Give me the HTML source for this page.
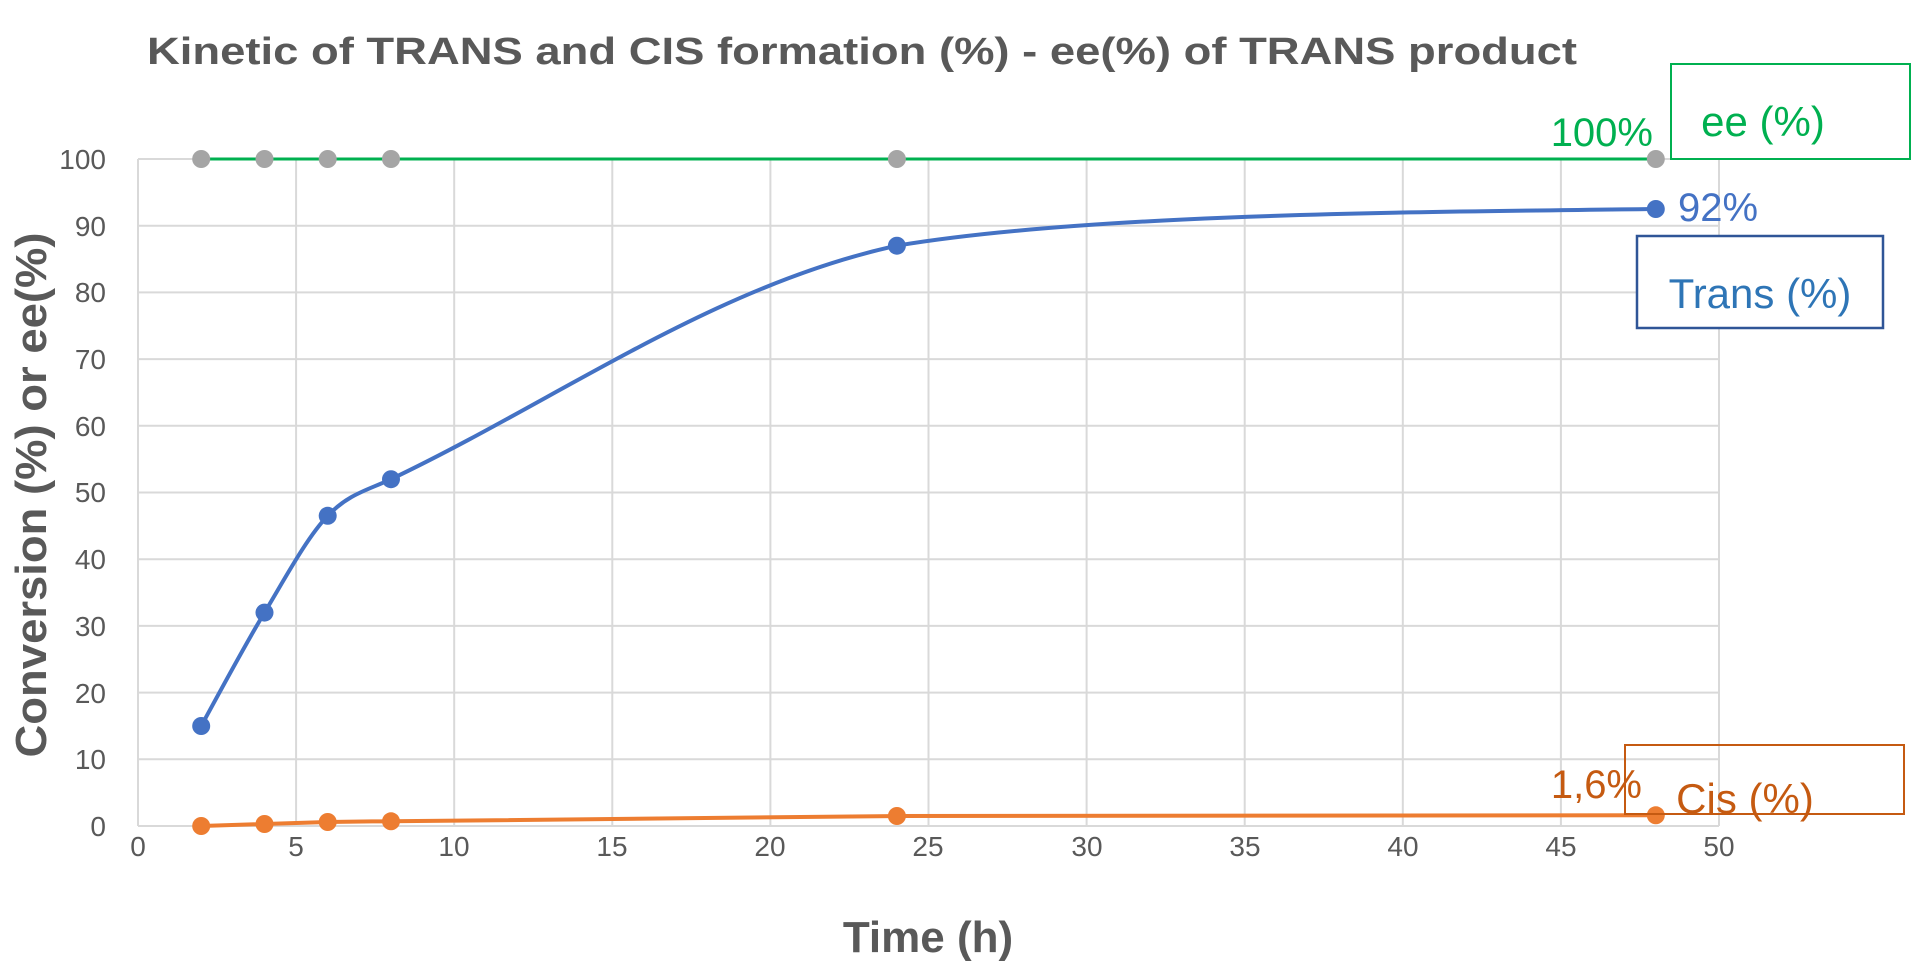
<!DOCTYPE html>
<html><head><meta charset="utf-8"><style>
html,body{margin:0;padding:0;background:#fff;}
svg{display:block;}
text{font-family:"Liberation Sans",sans-serif;}
</style></head><body>
<svg width="1920" height="965" viewBox="0 0 1920 965" xmlns="http://www.w3.org/2000/svg">
<rect width="1920" height="965" fill="#fff"/>
<text x="147" y="64" font-size="38" font-weight="bold" fill="#595959" textLength="1430" lengthAdjust="spacingAndGlyphs">Kinetic of TRANS and CIS formation (%)  -  ee(%) of TRANS product</text>
<g stroke="#d9d9d9" stroke-width="2">
<line x1="138" y1="826" x2="1719" y2="826"/><line x1="138" y1="759.3" x2="1719" y2="759.3"/><line x1="138" y1="692.6" x2="1719" y2="692.6"/><line x1="138" y1="625.9" x2="1719" y2="625.9"/><line x1="138" y1="559.2" x2="1719" y2="559.2"/><line x1="138" y1="492.5" x2="1719" y2="492.5"/><line x1="138" y1="425.8" x2="1719" y2="425.8"/><line x1="138" y1="359.1" x2="1719" y2="359.1"/><line x1="138" y1="292.4" x2="1719" y2="292.4"/><line x1="138" y1="225.7" x2="1719" y2="225.7"/><line x1="138" y1="159" x2="1719" y2="159"/>
<line x1="138" y1="159" x2="138" y2="826"/><line x1="296.1" y1="159" x2="296.1" y2="826"/><line x1="454.2" y1="159" x2="454.2" y2="826"/><line x1="612.3" y1="159" x2="612.3" y2="826"/><line x1="770.4" y1="159" x2="770.4" y2="826"/><line x1="928.5" y1="159" x2="928.5" y2="826"/><line x1="1086.6" y1="159" x2="1086.6" y2="826"/><line x1="1244.7" y1="159" x2="1244.7" y2="826"/><line x1="1402.8" y1="159" x2="1402.8" y2="826"/><line x1="1560.9" y1="159" x2="1560.9" y2="826"/><line x1="1719" y1="159" x2="1719" y2="826"/>
</g>
<g font-size="28" fill="#595959" text-anchor="end">
<text x="106" y="836">0</text><text x="106" y="769">10</text><text x="106" y="703">20</text><text x="106" y="636">30</text><text x="106" y="569">40</text><text x="106" y="502">50</text><text x="106" y="436">60</text><text x="106" y="369">70</text><text x="106" y="302">80</text><text x="106" y="236">90</text><text x="106" y="169">100</text>
</g>
<g font-size="28" fill="#595959" text-anchor="middle">
<text x="138" y="856">0</text><text x="296" y="856">5</text><text x="454" y="856">10</text><text x="612" y="856">15</text><text x="770" y="856">20</text><text x="928" y="856">25</text><text x="1087" y="856">30</text><text x="1245" y="856">35</text><text x="1403" y="856">40</text><text x="1561" y="856">45</text><text x="1719" y="856">50</text>
</g>
<text x="928" y="952" font-size="44" font-weight="bold" fill="#595959" text-anchor="middle">Time (h)</text>
<text transform="translate(46,495) rotate(-90)" font-size="44" font-weight="bold" fill="#595959" text-anchor="middle" textLength="525" lengthAdjust="spacingAndGlyphs">Conversion (%) or ee(%)</text>
<line x1="201" y1="159" x2="1656" y2="159" stroke="#00b050" stroke-width="3"/>
<g fill="#a5a5a5"><circle cx="201.2" cy="159" r="9"/><circle cx="264.5" cy="159" r="9"/><circle cx="327.7" cy="159" r="9"/><circle cx="391" cy="159" r="9"/><circle cx="896.9" cy="159" r="9"/><circle cx="1655.8" cy="159" r="9"/></g>
<path d="M201.2,726 C211.6,707.1 243.4,647.6 264.5,612.6 C285.6,577.6 306.6,538 327.7,515.8 C348.8,493.6 369.3,489.5 391,479.2 C559,399 715,285 896.9,245.7 C1100,212 1450,212 1655.8,209" fill="none" stroke="#4472c4" stroke-width="4"/>
<g fill="#4472c4"><circle cx="201.2" cy="726" r="9"/><circle cx="264.5" cy="612.6" r="9"/><circle cx="327.7" cy="515.8" r="9"/><circle cx="391" cy="479.2" r="9"/><circle cx="896.9" cy="245.7" r="9"/><circle cx="1655.8" cy="209" r="9"/></g>
<path d="M201.2,826 C230,825 250,824.5 264.5,824 C290,823 310,822.5 327.7,822 C350,821.6 370,821.4 391,821.3 C600,819 750,816.5 896.9,816 C1200,815 1450,815.3 1655.8,815.3" fill="none" stroke="#ed7d31" stroke-width="4"/>
<g fill="#ed7d31"><circle cx="201.2" cy="826" r="9"/><circle cx="264.5" cy="824" r="9"/><circle cx="327.7" cy="822" r="9"/><circle cx="391" cy="821.3" r="9"/><circle cx="896.9" cy="816" r="9"/><circle cx="1655.8" cy="815.3" r="9"/></g>
<text x="1653" y="146" font-size="40" fill="#00b050" text-anchor="end">100%</text>
<text x="1678" y="221" font-size="40" fill="#4472c4">92%</text>
<text x="1642" y="798" font-size="40" fill="#c55a11" text-anchor="end">1,6%</text>
<rect x="1671" y="64" width="239" height="95" fill="#fff" stroke="#00b050" stroke-width="2"/>
<text x="1763" y="136" font-size="42" fill="#00b050" text-anchor="middle">ee (%)</text>
<rect x="1637" y="236" width="246" height="92" fill="#fff" stroke="#2f5597" stroke-width="2.5"/>
<text x="1760" y="308" font-size="42" fill="#2e75b6" text-anchor="middle">Trans (%)</text>
<rect x="1625" y="745" width="279" height="69" fill="none" stroke="#c55a11" stroke-width="2"/>
<text x="1745" y="813" font-size="42" fill="#c55a11" text-anchor="middle">Cis (%)</text>
</svg>
</body></html>
